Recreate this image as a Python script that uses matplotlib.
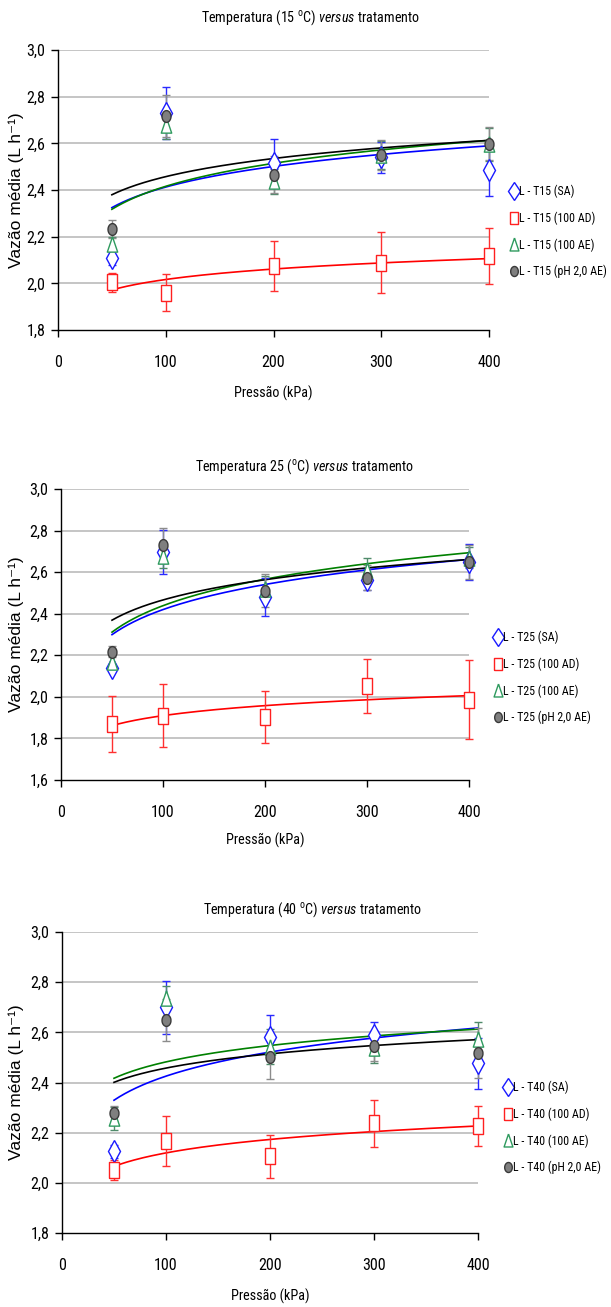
import numpy as np
import matplotlib
matplotlib.use('Agg')
import matplotlib.pyplot as plt
from matplotlib.lines import Line2D
from matplotlib import font_manager as fm

# ---------------- data ----------------
pressure = [50, 100, 200, 300, 400]
x_ticks = [0, 100, 200, 300, 400]

# 15 C
t15_sa = [2.110, 2.730, 2.515, 2.540, 2.485]
t15_sa_err = [0.030, 0.110, 0.105, 0.065, 0.110]
t15_ad = [2.005, 1.960, 2.074, 2.088, 2.116]
t15_ad_err = [0.040, 0.080, 0.107, 0.130, 0.120]
t15_ae = [2.170, 2.680, 2.437, 2.550, 2.595]
t15_ae_err = [0.030, 0.060, 0.055, 0.060, 0.070]
t15_ph = [2.233, 2.718, 2.466, 2.550, 2.598]
t15_ph_err = [0.040, 0.090, 0.080, 0.065, 0.070]

# 25 C
t25_sa = [2.141, 2.697, 2.481, 2.564, 2.649]
t25_sa_err = [0.015, 0.105, 0.090, 0.050, 0.088]
t25_ad = [1.870, 1.910, 1.905, 2.050, 1.986]
t25_ad_err = [0.135, 0.150, 0.125, 0.130, 0.190]
t25_ae = [2.170, 2.680, 2.520, 2.610, 2.670]
t25_ae_err = [0.030, 0.060, 0.060, 0.060, 0.050]
t25_ph = [2.218, 2.729, 2.510, 2.574, 2.649]
t25_ph_err = [0.025, 0.085, 0.080, 0.060, 0.080]

# 40 C
t40_sa = [2.125, 2.700, 2.580, 2.590, 2.476]
t40_sa_err = [0.025, 0.105, 0.090, 0.050, 0.100]
t40_ad = [2.052, 2.167, 2.105, 2.237, 2.228]
t40_ad_err = [0.040, 0.100, 0.085, 0.095, 0.080]
t40_ae = [2.257, 2.735, 2.542, 2.536, 2.575]
t40_ae_err = [0.045, 0.050, 0.070, 0.060, 0.065]
t40_ph = [2.277, 2.649, 2.503, 2.546, 2.516]
t40_ph_err = [0.030, 0.085, 0.090, 0.060, 0.100]

treatments = ['SA', '100 AD', '100 AE', 'pH 2,0 AE']
temp_tags = ['T15', 'T25', 'T40']
y_mins = [1.8, 1.6, 1.8]
x_label = 'Pressão (kPa)'

panels_data = [
    [(t15_sa, t15_sa_err), (t15_ad, t15_ad_err), (t15_ae, t15_ae_err), (t15_ph, t15_ph_err)],
    [(t25_sa, t25_sa_err), (t25_ad, t25_ad_err), (t25_ae, t25_ae_err), (t25_ph, t25_ph_err)],
    [(t40_sa, t40_sa_err), (t40_ad, t40_ad_err), (t40_ae, t40_ae_err), (t40_ph, t40_ph_err)],
]

# ---------------- fonts: look for a condensed sans ----------------
pref_names = ['Liberation Sans Narrow', 'Arial Narrow', 'Roboto Condensed', 'Open Sans Condensed',
              'Noto Sans', 'DejaVu Sans', 'Open Sans', 'Roboto', 'Liberation Sans']
stretch_rank = {'condensed': 0, 'semi-condensed': 1, 'extra-condensed': 2}
best = None
for f in fm.fontManager.ttflist:
    if f.style != 'normal':
        continue
    if f.weight not in (400, 'normal', 'regular'):
        continue
    st = f.stretch
    is_narrow = (st in stretch_rank) or ('Narrow' in f.name) or ('Condensed' in f.name)
    if not is_narrow or f.name not in pref_names:
        continue
    key = (stretch_rank.get(st, 0), pref_names.index(f.name))
    if best is None or key < best[0]:
        best = (key, f)

if best is not None:
    nf = best[1]
    NARROW_FAMILY = nf.name
    NARROW_STRETCH = nf.stretch if nf.stretch in stretch_rank else 'normal'
    SIZE_SCALE = 1.0
else:
    NARROW_FAMILY = 'Liberation Sans'
    NARROW_STRETCH = 'normal'
    SIZE_SCALE = 0.85

plt.rcParams['font.family'] = [NARROW_FAMILY, 'DejaVu Sans']
plt.rcParams['font.stretch'] = NARROW_STRETCH
plt.rcParams['mathtext.fontset'] = 'custom'
pat = NARROW_FAMILY + (':stretch=' + NARROW_STRETCH if NARROW_STRETCH != 'normal' else '')
plt.rcParams['mathtext.rm'] = pat
plt.rcParams['mathtext.it'] = pat + ':style=italic'
plt.rcParams['mathtext.bf'] = pat + ':weight=bold'

titles = [r'Temperatura (15 $^{\rm o}$C) $\it{versus}$ tratamento',
          r'Temperatura 25 ($^{\rm o}$C) $\it{versus}$ tratamento',
          r'Temperatura (40 $^{\rm o}$C) $\it{versus}$ tratamento']
y_label = 'Vazão média (L h⁻¹)'

# marker shapes (taller than wide, as in the original spreadsheet chart)
rect = [(-0.32, -0.5), (0.32, -0.5), (0.32, 0.5), (-0.32, 0.5), (-0.32, -0.5)]
tri = [(0.0, 0.5), (0.34, -0.5), (-0.34, -0.5), (0.0, 0.5)]
_th = np.linspace(0, 2 * np.pi, 41)
ell = list(zip(0.38 * np.cos(_th), 0.5 * np.sin(_th)))

styles = [
    dict(marker='d', ms=11, mfc='white', mec='#1a1aff', mew=1.0, ecolor='#2a2aff', line='#0000ff'),
    dict(marker=rect, ms=11, mfc='white', mec='#ff2020', mew=1.0, ecolor='#ff3030', line='#ff0000'),
    dict(marker=tri, ms=11, mfc='white', mec='#2e9a5e', mew=1.0, ecolor='#4f8a6a', line='#008000'),
    dict(marker=ell, ms=8.5, mfc='#7f7f7f', mec='#3a3a3a', mew=1.0, ecolor='#8c8c8c', line='#000000'),
]

W, H = 611, 1307
fig = plt.figure(figsize=(W / 100, H / 100), dpi=100)

boxes = [(58, 489, 50, 330), (61, 469, 489, 780), (62, 478, 932, 1233)]
legend_pos = [(514, 231.5), (498, 677.5), (508, 1127.5)]
title_x = [311, 305, 313]
title_y = [18, 467, 910]
xlabel_y = [393, 840, 1296]

tick_fs = 11.5 * SIZE_SCALE
leg_fs = 8.6 * SIZE_SCALE
title_fs = 10.2 * SIZE_SCALE
xlab_fs = 10.2 * SIZE_SCALE

for i in range(3):
    l, r, t, b = boxes[i]
    ax = fig.add_axes([l / W, 1 - b / H, (r - l) / W, (b - t) / H])
    ax.set_xlim(0, 400)
    ax.set_ylim(y_mins[i], 3.0)
    yt = np.round(np.arange(y_mins[i], 3.0001, 0.2), 1)
    ax.set_yticks(yt)
    ax.set_yticklabels([f'{v:.1f}'.replace('.', ',') for v in yt])
    ax.set_xticks(x_ticks)
    ax.set_xticklabels([str(v) for v in x_ticks])
    for v in yt[1:]:
        ax.axhline(v, color='#c0c0c0', lw=1.3, zorder=0)
    for s in ['top', 'right']:
        ax.spines[s].set_visible(False)
    for s in ['left', 'bottom']:
        ax.spines[s].set_color('black')
        ax.spines[s].set_linewidth(1.0)
    ax.tick_params(axis='x', direction='out', length=5, width=1, pad=13, labelsize=tick_fs)
    ax.tick_params(axis='y', direction='out', length=5, width=1, pad=4, labelsize=tick_fs)

    xs = np.array(pressure, dtype=float)
    xfit = np.linspace(50, 400, 200)
    handles = []
    for k, (vals, errs) in enumerate(panels_data[i]):
        st = styles[k]
        coef = np.polyfit(np.log(xs), np.array(vals), 1)
        ax.plot(xfit, np.polyval(coef, np.log(xfit)), color=st['line'], lw=1.2, zorder=2)
    for k, (vals, errs) in enumerate(panels_data[i]):
        st = styles[k]
        ax.errorbar(xs, vals, yerr=errs, fmt='none', ecolor=st['ecolor'], elinewidth=1.0,
                    capsize=3, capthick=1.0, zorder=3, clip_on=False)
        ax.plot(xs, vals, ls='none', marker=st['marker'], ms=st['ms'], mfc=st['mfc'],
                mec=st['mec'], mew=st['mew'], zorder=4, clip_on=False)
        handles.append(Line2D([], [], ls='none', marker=st['marker'], ms=st['ms'] * 0.85,
                              mfc=st['mfc'], mec=st['mec'], mew=st['mew']))
    labels = [f'L - {temp_tags[i]} ({t})' for t in treatments]
    lx, ly = legend_pos[i]
    fig.legend(handles, labels, loc='center left',
               bbox_to_anchor=((lx - 4) / W, 1 - ly / H), bbox_transform=fig.transFigure,
               frameon=False, fontsize=leg_fs, handlelength=0.65, handletextpad=0.12,
               labelspacing=1.12, borderpad=0, borderaxespad=0)

    fig.text(title_x[i] / W, 1 - title_y[i] / H, titles[i], ha='center', va='center',
             fontsize=title_fs)
    fig.text((l + r) / 2 / W, 1 - xlabel_y[i] / H, x_label, ha='center', va='center',
             fontsize=xlab_fs)
    fig.text(16 / W, 1 - (t + b) / 2 / H, y_label, rotation=90, ha='center', va='center',
             fontsize=12.5, family=['Liberation Sans', 'DejaVu Sans'], stretch='normal')

fig.savefig('out.png', dpi=100)
